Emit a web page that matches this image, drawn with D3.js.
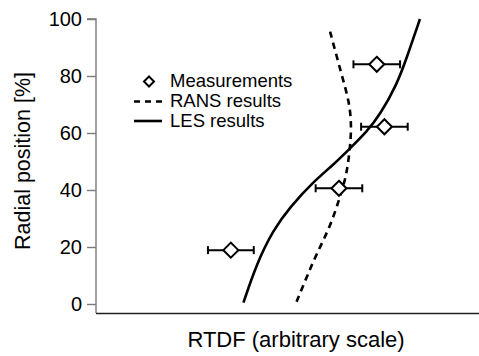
<!DOCTYPE html>
<html><head><meta charset="utf-8">
<script src="https://cdn.jsdelivr.net/npm/d3@7"></script>
<style>body{margin:0;background:#fff}text{font-family:"Liberation Sans",Arial,sans-serif;fill:#000}</style>
</head><body><svg id="c" width="479" height="356"></svg>
<script>
const yTicks = [0, 20, 40, 60, 80, 100];
const lesX = [38.6, 42.1, 46.4, 50.8, 56.9, 62.1, 66.5, 70.9, 74.3, 78.7, 81.3, 84.8];
const lesY = [0.5, 14.3, 26, 34, 42.9, 48.8, 54.6, 60.5, 66.3, 76.8, 86.2, 100];
const ransX = [52.5, 55.2, 57.8, 61.3, 63.9, 65.6, 66.5, 66.9, 66.3, 64.3, 61.1];
const ransY = [0.8, 9.6, 17.8, 27.1, 37.6, 45.3, 54.6, 62.8, 71, 80.4, 96.5];
const measX = [73.5, 75.5, 63.6, 35.3];
const measY = [84.1, 62.2, 40.6, 18.9];
const measErr = [6.1, 6.1, 6.1, 6.0];
const legendLabels = ["Measurements", "RANS results", "LES results"];
const xTitle = "RTDF (arbitrary scale)";
const yTitle = "Radial position [%]";

const svg = d3.select("#c");
const x = d3.scaleLinear().domain([0, 100]).range([96, 478]);
const y = d3.scaleLinear().domain([0, 100]).range([304, 19]);

// y axis
const ya = svg.append("g").attr("transform", "translate(96,0)")
  .call(d3.axisLeft(y).tickValues(yTicks).tickSize(9).tickPadding(5));
ya.select(".domain").attr("stroke", "#7a7a7a").attr("stroke-width", 1.4).attr("d", `M-9,${y(100)}H0V313`);
ya.selectAll(".tick line").attr("stroke", "#7a7a7a").attr("stroke-width", 1.4);
ya.selectAll(".tick text").style("font-size", "20px").attr("fill", "#000");

// x axis line
svg.append("line").attr("x1", 96).attr("x2", 479).attr("y1", 313.5).attr("y2", 313.5)
  .attr("stroke", "#222").attr("stroke-width", 1.5);

svg.append("text").attr("x", 296).attr("y", 347).attr("text-anchor", "middle")
  .style("font-size", "22px").text(xTitle);
svg.append("text").attr("transform", "translate(30,161) rotate(-90)").attr("text-anchor", "middle")
  .style("font-size", "21.5px").text(yTitle);

const line = d3.line().x(d => x(d[0])).y(d => y(d[1])).curve(d3.curveBasis);
svg.append("path").datum(lesX.map((v, i) => [v, lesY[i]])).attr("d", line)
  .attr("fill", "none").attr("stroke", "#000").attr("stroke-width", 2.6);
svg.append("path").datum(ransX.map((v, i) => [v, ransY[i]])).attr("d", line)
  .attr("fill", "none").attr("stroke", "#000").attr("stroke-width", 2.6).attr("stroke-dasharray", "6.5,5");

// measurements
const m = svg.append("g").selectAll("g").data(measX.map((v, i) => ({x: v, y: measY[i], e: measErr[i]}))).join("g");
m.append("line").attr("x1", d => x(d.x - d.e)).attr("x2", d => x(d.x + d.e))
  .attr("y1", d => y(d.y)).attr("y2", d => y(d.y)).attr("stroke", "#000").attr("stroke-width", 2);
m.append("line").attr("x1", d => x(d.x - d.e)).attr("x2", d => x(d.x - d.e))
  .attr("y1", d => y(d.y) - 4).attr("y2", d => y(d.y) + 4).attr("stroke", "#000").attr("stroke-width", 2);
m.append("line").attr("x1", d => x(d.x + d.e)).attr("x2", d => x(d.x + d.e))
  .attr("y1", d => y(d.y) - 4).attr("y2", d => y(d.y) + 4).attr("stroke", "#000").attr("stroke-width", 2);
m.append("path").attr("d", d => { const cx = x(d.x), cy = y(d.y), r = 7.5; return `M${cx},${cy - r}L${cx + r},${cy}L${cx},${cy + r}L${cx - r},${cy}Z`; })
  .attr("fill", "#fff").attr("stroke", "#000").attr("stroke-width", 2);

// legend
const lg = svg.append("g");
const ly = [81.5, 101.5, 121];
lg.append("path").attr("d", `M149,${ly[0] - 5}L154,${ly[0]}L149,${ly[0] + 5}L144,${ly[0]}Z`)
  .attr("fill", "#fff").attr("stroke", "#000").attr("stroke-width", 2);
lg.append("line").attr("x1", 134).attr("x2", 162).attr("y1", ly[1]).attr("y2", ly[1])
  .attr("stroke", "#000").attr("stroke-width", 2.6).attr("stroke-dasharray", "6,5");
lg.append("line").attr("x1", 134).attr("x2", 162).attr("y1", ly[2]).attr("y2", ly[2])
  .attr("stroke", "#000").attr("stroke-width", 2.6);
lg.selectAll("text.l").data(legendLabels).join("text").attr("class", "l")
  .attr("x", 170).attr("y", (d, i) => ly[i] + 5.5).style("font-size", "18.5px").text(d => d);
</script></body></html>
